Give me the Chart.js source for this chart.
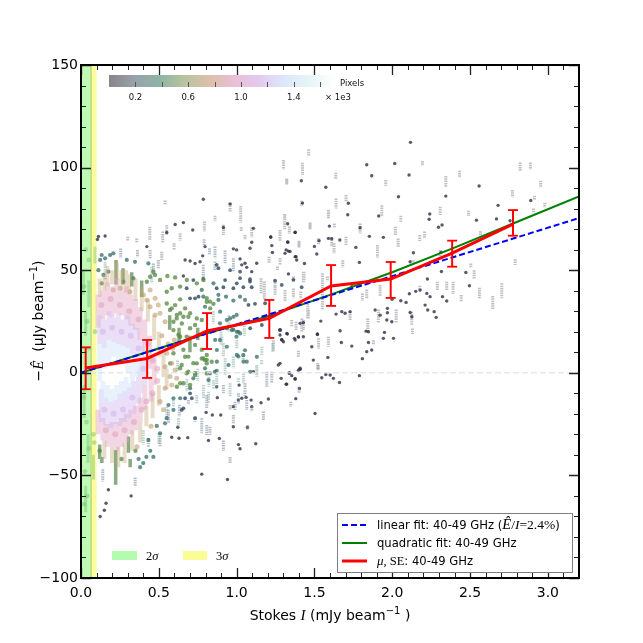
<!DOCTYPE html>
<html>
<head>
<meta charset="utf-8">
<title>Stokes I vs E</title>
<script src="https://cdn.jsdelivr.net/npm/chart.js@4"></script>
<style>
    html, body { margin: 0; padding: 0; background: #ffffff; }
    #wrap { width: 643px; height: 643px; }
</style>
</head>
<body>
<div id="wrap"><canvas id="chart" width="643" height="643"></canvas></div>
<script>
// fit lines and binned means
const linearX = [0, 3.2];
const linearY = [0, 75.4];
const quadX = [0, 0.4, 0.8, 1.2, 1.6, 2.0, 2.4, 2.8, 3.2];
const quadY = [0, 9.5, 19, 27.5, 38, 49, 61, 73.5, 86];
const meanX = [0.03, 0.425, 0.81, 1.21, 1.607, 1.99, 2.385, 2.776];
const meanY = [2.3, 7, 20.4, 26.5, 42.3, 45.7, 58.3, 72.5];
const seLow = [-8, -2.5, 11.6, 17, 32.6, 36.5, 51.7, 66.8];
const seHigh = [12.4, 16, 29.1, 35.5, 52.5, 54, 64.4, 79.3];
const zeroX = [0, 3.2];
const zeroY = [0, 0];

const sigmaLimits = [0.065, 0.1];
const xMajor = [0, 0.5, 1, 1.5, 2, 2.5, 3];
const yMajor = [-100, -50, 0, 50, 100, 150];
const xMinorStep = 0.1;
const yMinorStep = 10;
const pixelTicks = [0.2, 0.6, 1.0, 1.4];
const pixelMinor = [0.4, 0.8, 1.2, 1.6];

// vertical runs of points: [x, top, bottom]
const runsDark = [
    [1.463,108.9,105.6],[1.301,103.7,99.1],[1.423,102.4,96.4],[1.322,94.7,91.8],[1.637,97.5,94.3],[1.958,93.9,91.2],
    [2.194,103.2,100.8],[2.432,98.5,95.1],[2.344,95.9,90.4],[2.822,102.5,98],[2.888,102.5,99.1],[2.954,93.6,90.7],
    [2.772,89.1,85.5],[1.703,86.6,83.4],[1.639,85,80.1],[1.933,81.7,76],[1.59,79.3,75.7],[2.055,76.5,73.6],
    [2.308,80.9,76.9],[2.49,79,76.4],[2.914,86.3,84.2],[2.98,82.9,80.6],[2.907,80.1,77.7],[1.309,77.4,72],
    [1.472,72.8,70],[1.628,72.8,70.9],[1.793,72.8,67.9],[2.02,71.2,67.1],[2.038,65.5,61.1],[2.207,68.8,65.5],
    [2.177,67.1,64.2],[2.567,69,66.6],[1.703,66.3,62.3],[1.611,66,61.4],[1.279,69.6,64.4],[1.401,63.9,61.1],
    [1.626,63.1,58.2],[1.905,62.3,56.2],[1.682,54.9,51.4],[2.136,54.9,52.5],[2.308,59.8,56.6],[2.505,53.3,51.4],
    [2.79,55.3,52.5],[2.526,50,45.5],[2.29,44.4,40],[2.35,44.4,40.3],[2.391,44.4,38.4],[2.177,42.4,39.8],
    [2.56,41.5,36],[2.443,37.9,34.8],[2.646,37.4,30.9],[2.704,43.6,36.3],[1.836,40.6,36],[1.808,38.7,35.1],
    [1.922,42.8,37.4],[1.551,48.5,30.6],[1.429,49.3,43.9],[1.365,41.1,36.3],[1.247,45.2,40.3],[1.311,40.3,34.6],
    [1.457,33.8,26.5],[1.911,30.9,24.1],[2.025,30.9,24.4],[1.843,26.5,20],[1.729,29.8,25.4],[2.125,29.8,23.3],
    [2.13,21.6,18.9],[1.59,17.6,12.7],[1.236,15.9,10.3],[1.397,10.8,7.5],[1.879,15.9,13.5],[1.521,4.8,1.3],
    [1.419,26.5,20],[1.382,24.9,20.8],[1.354,25.7,22.5],[1.322,94,92],[1.418,83.9,81.3],[1.026,81.3,73.2],
    [0.958,82.6,78.6],[0.861,76.5,73.9],[0.793,73.7,68.8],[0.915,72.1,67.2],[1.03,70.9,68.8],[1.097,70.9,66.1],
    [1.054,67.2,64.8],[1.279,69.6,64.8],[1.309,77.3,70],[1.339,71.3,67.7],[1.472,73.2,70],[1.59,79.4,75.3],
    [1.401,64.3,61.5],[1.525,65.6,62.3],[1.208,56.6,53.4],[1.279,55.8,52.6],[1.262,51.8,50.1],[1.433,49.3,44.5],
    [1.583,46.9,44.5],[1.365,46.9,44.5],[1.157,46.1,38.8],[1.178,44.5,35.5],[1.247,42,38],[1.412,39.6,36.3],
    [0.442,71.2,64.7],[0.525,68.8,63.4],[0.551,72,67.1],[0.637,68,64.4],[0.598,63.1,59.8],[0.3,66.3,64.4],
    [0.358,65.5,63.4],[0.54,84,82],[1.526,16.8,11.9],[1.429,25.7,20.9],[1.382,24.9,20.9],[1.461,30.6,26.5]
];
const runsSlate = [
    [0.915,-6,-10],[0.808,-10.8,-15.7],[1.054,-5.1,-12.4],[0.99,-14.1,-18.1],[0.958,-15.7,-18.1],[1.097,-16.5,-18.9],
    [1.172,-18.9,-23],[0.979,-20.6,-24.6],[0.776,-22.2,-29.5],[0.808,-25.4,-30.3],[0.829,-26.3,-30.3],[1.071,-25.4,-27.9],
    [1.226,0.5,-5.1],[1.401,-6.8,-10],[1.348,-14.1,-16.5],[1.525,3.8,1.4],[0.791,65.1,62.3],[0.825,60.7,57.4],
    [0.861,61.5,55.8],[0.926,59.6,53.4],[0.979,55.8,49.3],[0.786,52.6,45.3],[0.861,54.2,50.1],[0.255,60.6,55.8],
    [0.444,59.8,55.8],[0.363,59.8,56.3],[0.465,53.3,47.7],[0.497,55,50.9],[0.519,59,55],[0.508,-29.5,-36],
    [0.562,-18,-24.6],[0.632,-15.6,-21.3],[0.69,-13.2,-15.6],[0.733,-21.3,-23.8],[0.808,-10.8,-17.3],[0.433,-31.9,-36],
    [0.348,-51,-55],[0.915,-33,-38],[0.958,-41,-44],[0.14,-47,-53],[1.194,0.5,-6.8],[1.065,-13.3,-18.1],[1.012,-10,-15]
];
const runsTeal = [
    [0.915,14.4,7.9],[0.926,7.1,-1.1],[0.979,7.9,2.2],[0.872,-0.3,-7.6],[0.823,-1.9,-6.8],[1.043,9.5,6.2],
    [1.011,-2.7,-5.1],[1.129,3.8,-1.1],[1.232,14.4,10.3],[1.161,6.2,3.8],[0.155,54,45],[0.455,51.7,43.6],
    [0.5,-29.5,-35],[0.4,-28,-35],[0.85,30,24],[0.95,28,20],[1.05,24,18],[0.9,20,14],
    [0.958,-5.1,-11.6],[1.13,3,-1.9],[1.044,-0.3,-5.1],[1.001,16,11.9],[0.905,17.6,13.5],[1.162,12.7,8.7],
    [0.851,-3.5,-7.6],[0.787,-6,-12.5],[0.744,-10.8,-14.9],[0.551,-16.5,-23],[0.594,-13.3,-16.5],[0.626,-22.2,-26.3],
    [0.82,-9.2,-15],[0.75,2,-4],[0.68,-3,-9],[0.62,6,1]
];
const runsGreen = [
    [0.225,55,43],[0.27,51,43],[0.326,49,42],[0.39,45,37],[0.12,-35,-42],[0.305,-31,-39],[0.223,-37.6,-54.6],
    [0.134,-41,-44],[0.316,-42,-46],[0.57,28,21],[0.63,22,15],[0.7,18,10],[0.75,22,16]
];
const runsTan = [
    [0.12,46,37],[0.15,48,40],[0.17,52,42],[0.2,50,43],[0.23,54,45],[0.26,50,40],[0.29,50,39],[0.31,48,38],[0.35,46,35],[0.39,42,30],
    [0.43,36,25],[0.47,28,16],[0.5,20,8],[0.53,10,-2],[0.55,2,-8],[0.5,-6,-16],[0.46,-10,-22],[0.42,-16,-26],
    [0.38,-24,-34],[0.33,-28,-38],[0.28,-34,-44],[0.24,-36,-46],[0.2,-36,-44],[0.15,-33,-42]
];
const runsPink = [
    [0.11,38,22],[0.14,40,26],[0.17,44,28],[0.2,42,27],[0.23,46,29],[0.26,40,28],[0.29,42,26],[0.32,38,23],
    [0.35,36,21],[0.38,32,16],[0.41,26,10],[0.44,18,2],[0.47,8,-6],[0.45,-2,-14],[0.41,-6,-18],[0.38,-12,-24],
    [0.35,-16,-28],[0.32,-18,-30],[0.29,-20,-34],[0.26,-22,-36],[0.23,-24,-38],[0.2,-24,-36],[0.17,-25,-36],
    [0.14,-22,-33],[0.11,-18,-30]
];
const runsLavender = [
    [0.12,28,14],[0.15,26,12],[0.18,30,16],[0.21,27,15],[0.24,29,14],[0.27,26,13],[0.3,28,12],[0.33,24,9],
    [0.36,22,6],[0.39,16,2],[0.41,8,-6],[0.38,3,-10],[0.13,-8,-24],[0.16,-12,-26],[0.19,-14,-27],[0.22,-13,-25],
    [0.25,-10,-26],[0.28,-9,-24],[0.31,-7,-22],[0.34,-4,-20],[0.37,-2,-15]
];
const runsPale = [
    [0.12,14,-4],[0.15,15,2],[0.18,17,4],[0.21,15,8],[0.24,16,6],[0.27,14,4],[0.3,13,0],[0.33,9,-5],[0.36,6,-2],
    [0.14,-4,-14],[0.17,-6,-15],[0.2,-8,-14],[0.23,-6,-13],[0.26,-4,-12],[0.29,-2,-10],[0.32,-5,-8]
];
const runsBand = [
    [0.015,50,38],[0.03,30,18],[0.05,45,32],[0.02,-6,-22],[0.045,-30,-44],[0.03,-55,-68],[0.09,61.5,53.3],[0.08,-40,-52]
];

// single points: [x, y]
const dotsDark = [
    [2.117,112.3],[1.836,101.4],[2.016,102],[2.108,96.4],[1.868,96],[1.416,93.6],[1.573,90.4],[2.558,91],[2.04,85.8],
    [2.344,86.1],[2.89,84],[2.68,81.6],[1.423,82.7],[1.718,82.6],[1.714,77],[1.913,76.4],[2.241,77.4],[2.237,74.8],
    [2.541,74.4],[2.67,75],[2.757,74.1],[2.32,72],[2.297,70.9],[1.596,71.5],[1.793,70.7],[1.376,68.4],[1.329,63.6],
    [1.219,66.3],[1.226,62],[1.53,64.4],[1.5,61.6],[1.59,65.5],[1.611,65.3],[1.663,64.7],[1.853,66.5],[1.943,66],
    [1.766,61.1],[1.515,57.9],[1.333,59.3],[1.311,58.2],[1.376,56.6],[1.386,55],[1.436,53.3],[1.789,53.8],[2.136,58.5],
    [2.115,54.1],[2.314,58.7],[2.473,48.9],[2.226,45.7],[2.316,49.4],[2.496,42.4],[2.151,39.7],[2.179,40.3],[2.11,38.5],
    [2.222,38.7],[2.243,37.1],[2.323,37.1],[2.35,35],[2.055,35.1],[2.089,34.3],[2.211,33],[2.228,30.6],[2.269,29.8],
    [2.282,27],[2.115,29.4],[2.126,27.3],[1.969,31.4],[1.969,29.3],[1.89,30.6],[1.922,28.1],[1.999,35.8],[1.793,42.8],
    [1.74,42],[1.639,28.6],[1.676,29.8],[1.697,29],[1.729,29.8],[1.965,25.7],[1.997,24.9],[1.541,25.2],[1.665,20.5],
    [1.832,20.3],[1.847,20],[1.95,19.7],[1.943,16.8],[2.008,16.8],[1.847,14.8],[1.673,14.8],[1.74,13],[1.519,18.7],
    [1.483,12.7],[1.836,10.3],[1.868,11.1],[1.808,6.9],[1.493,6.2],[1.586,7.5],[1.279,4.6],[1.408,2.2],[1.397,1.3],
    [1.339,-0.3],[1.376,-2.7],[1.547,-2.4],[1.573,-0.8],[1.601,-1.1],[1.622,-2.7],[1.661,-4.7],[1.789,-1.4],[1.286,-2.7],
    [1.322,-5.5],[1.404,-7.6],[1.29,16],[1.279,20.8],[1.322,19.2],[1.376,16],[1.429,24.4],[1.429,17.6],[1.397,17.6],
    [1.301,15.1],[0.786,84.6],[0.958,82.3],[1.108,70.4],[0.915,70.8],[1.328,72.6],[1.376,68.5],[1.219,66],[1.23,58.6],
    [1.328,63.8],[1.318,59.9],[1.343,59.1],[1.097,63.6],[1.086,60.7],[0.797,61.5],[0.979,60.4],[1.0,59.9],[1.022,55.5],
    [1.033,52.6],[1.054,53.4],[1.065,51.4],[1.129,53.4],[1.097,49.3],[1.382,56.6],[1.333,48.2],[0.782,57],[1.279,20.9],
    [1.29,16.2],[1.326,18.9],[1.371,16.8],[1.397,17.4],[1.279,18.4],[1.408,24.1],[1.519,18.9],[1.408,1.7],[1.268,3.8],
    [1.108,0.55],[1.339,0.06],[1.354,-1.4],[1.376,-3.2],[1.318,-5.6],[1.204,-12.8],[1.157,-14.6],[1.38,-12.6],[1.093,-13.3],
    [1.097,-16.5],[1.061,-12],[1.033,-12.4],[1.011,-13.3],[0.979,-16.5],[0.876,-12.1],[0.804,-19.3],[0.844,-20.6],
    [0.898,-20.6],[0.979,-26.3],[1.069,-26.6],[1.504,-19.8],[0.889,-32],[0.954,-1.9],[0.872,-6.8],[1.016,-6],[0.155,66.7],
    [0.112,66.4],[0.106,65],[0.605,72.3],[0.658,73.2],[0.718,69.6],[0.423,61.5],[0.551,68.4],[0.669,55],[0.701,54.5],
    [0.733,53.3],[0.765,54.1],[0.658,47.2],[0.176,-57],[0.161,-63.6],[0.15,-67],[0.123,-70],[0.322,-60],[0.776,-49.4],
    [0.941,-52],[0.819,-33],[1.012,-35],[1.022,-37],[1.123,-34.6],[0.622,-26.5],[0.583,-31.4],[0.63,-31.9],[0.686,-31.6]
];
const dotsSlate = [
    [0.872,52.6],[0.883,51],[0.786,45.8],[1.022,46.1],[1.086,45.6],[1.086,44.5],[1.097,41.7],[1.247,44.9],[1.29,42.8],
    [1.418,41.7],[1.365,45.3],[1.279,20.9],[0.701,-10],[0.669,-12.4],[0.712,-12.4],[0.647,-18.1],[0.658,-17.3],
    [0.733,-22.1],[0.722,45.2],[0.679,41.2],[0.701,36.3],[0.733,36.3],[0.755,37.1],[1.043,41.7],[1.183,33.9],[1.118,33.6],
    [1.076,33.1],[0.979,41.2],[0.915,41.7],[0.872,41.2],[1.001,43.6],[0.926,45.2],[0.958,50],[1.022,49.3],[1.162,23.3],[1.087,21.7]
];
const dotsTeal = [
    [0.979,35.2],[1.022,37.1],[1.054,35.5],[0.932,37.1],[0.883,38],[0.776,40.4],[0.786,37.1],[0.797,32.2],[1.011,8],
    [1.011,20],[0.979,21],[1.054,11],[1.043,8.6],[1.065,5.4],[0.999,17.6],[0.969,20.8],[1.022,19.2],[0.958,26.5],
    [1.0,28.2],[0.893,24.1],[0.937,21.7],[0.893,16],[0.862,16],[0.594,-12.4],[0.562,-15.7],[0.637,-12.4],[0.701,-7.5],
    [0.551,-22.1],[0.54,-24.6],[0.487,-25.9],[0.433,-32.7],[0.508,-29.5],[0.594,-18.1],[0.722,-2.7],[0.819,-3.5],
    [0.797,2.2],[0.133,57.4],[0.123,55],[0.155,55.8],[0.187,57.4],[0.208,58.2],[0.294,55],[0.347,54.1],[0.433,53.3],
    [0.112,50],[0.144,47.7],[0.176,49.3],[0.273,44.4],[0.337,46],[0.86,0.5],[0.829,-0.3],[0.872,1],[0.37,-42],[0.42,-41],
    [0.38,-46],[0.4,-44],[0.445,-38],[0.465,-41],[0.937,25.7],[0.98,27.3],[1.033,24],[1.001,20],[0.873,11.1],[0.937,12.7],
    [1.001,8.7],[1.044,5.4],[1.13,7.8],[1.087,0.5],[0.948,3.8],[0.873,5.4],[0.894,29.8],[0.883,35.5],[0.851,43.6]
];
const dotsGreen = [
    [0.829,34.7],[0.851,33.6],[0.808,36.3],[0.551,39.5],[0.583,41.2],[0.637,35.8],[0.605,33],[0.572,30.6],[0.551,33.8],
    [0.508,45.2],[0.555,47.2],[0.605,46.5],[0.637,29],[0.615,26.5],[0.658,27.3],[0.594,24.9],[0.701,29],[0.744,26.5],
    [0.733,23.3],[0.465,49.3],[0.476,47.7],[0.423,44.4],[0.444,46.8],[0.658,11.2],[0.69,7.9],[0.722,4.7],[0.647,3.8],
    [0.679,-0.2],[0.733,-0.2],[0.637,-5.1],[0.701,-5.9],[0.626,18.5],[0.679,17.6],[0.733,13.6],[0.776,11.2],[0.808,6.3],
    [0.797,6.2],[0.808,4.6],[0.776,7],[0.808,8.7],[0.84,5.4],[0.133,43.6],[0.12,-38],[0.26,-42],[0.35,-38],
    [0.583,31.4],[0.616,28.2],[0.669,31.4],[0.69,27.3],[0.648,24],[0.594,20.8],[0.637,17.6],[0.701,21.7],[0.776,25.7],
    [0.808,34.6],[0.83,31.4],[0.68,45.2],[0.744,43.6],[0.637,42],[0.787,45.2],[0.787,7],[0.744,4.6],[0.808,-0.3],
    [0.69,0.5],[0.637,2.2],[0.594,9.5],[0.573,4.6],[0.669,7.8],[0.733,-1.1],[0.658,-5.1],[0.616,-6.8]
];
const dotsTan = [
    [0.208,40.3],[0.251,41.2],[0.315,39.5],[0.401,37.9],[0.444,40.3],[0.476,36.3],[0.497,33],[0.508,29],[0.54,24.9],
    [0.423,35.5],[0.444,32.2],[0.476,28.2],[0.551,9.5],[0.583,4.7],[0.54,3],[0.605,1.4],[0.572,-1.8],[0.615,-2.7],
    [0.54,-7.5],[0.508,-14],[0.583,-5.9],[0.52,18],[0.56,14],[0.59,12],[0.6,16],[0.53,-18],[0.45,-26],[0.36,-36]
];
const dotsPink = [
    [0.13,33],[0.19,36],[0.25,33],[0.31,30],[0.37,26],[0.43,14],[0.46,6],[0.49,2],[0.49,-4],[0.46,-10],[0.42,-14],
    [0.16,-28],[0.22,-30],[0.28,-28],[0.34,-24],[0.39,-18]
];
const dotsLavender = [
    [0.14,20],[0.2,22],[0.26,20],[0.32,18],[0.37,12],[0.4,2],[0.15,-18],[0.21,-20],[0.27,-18],[0.33,-12]
];
const dotsBand = [
    [0.03,60],[0.05,55],[0.02,42],[0.04,25],[0.05,12],[0.02,-12],[0.035,-24],[0.05,-37],[0.025,-48],[0.04,-60],[0.02,-64],
    [0.08,-30],[0.085,-34],[0.09,20]
];

const xLimits = [0, 3.2];
const yLimits = [-100, 150];

const bandStyles = [
    { runs: runsDark, dots: dotsDark, run: 'rgba(128,128,138,0.5)', dot: 'rgba(44,42,64,0.78)', r: 1.7, w: 3, dash: [1.5, 0.8] },
    { runs: runsSlate, dots: dotsSlate, run: 'rgba(104,124,146,0.5)', dot: 'rgba(46,70,92,0.8)', r: 1.9, w: 3, dash: [1.5, 0.8] },
    { runs: runsTeal, dots: dotsTeal, run: 'rgba(120,165,155,0.5)', dot: 'rgba(52,110,100,0.75)', r: 2.1, w: 3, dash: [1.5, 0.8] },
    { runs: runsGreen, dots: dotsGreen, run: 'rgba(88,135,72,0.7)', dot: 'rgba(90,138,72,0.78)', r: 2.2, w: 3.5, dash: [] },
    { runs: runsTan, dots: dotsTan, run: 'rgba(200,170,125,0.42)', dot: 'rgba(190,160,110,0.6)', r: 2.5, w: 4, dash: [] },
    { runs: runsPink, dots: dotsPink, run: 'rgba(226,165,195,0.45)', dot: 'rgba(224,160,190,0.55)', r: 3, w: 5, dash: [] },
    { runs: runsLavender, dots: dotsLavender, run: 'rgba(210,185,238,0.45)', dot: 'rgba(208,180,236,0.55)', r: 3, w: 5, dash: [] },
    { runs: runsPale, dots: [], run: 'rgba(218,234,250,0.6)', dot: 'rgba(216,232,250,0.6)', r: 3, w: 5, dash: [] }
];

const gradientStops = ['#8a8488', '#97a1ab', '#8fb3a5', '#b5c49e', '#dcc0a8', '#eabfd5', '#e2c9ee', '#dde6fb', '#e3f5f7', '#ffffff'];

const SANS = '"DejaVu Sans"';
const SERIF = '"Liberation Serif"';

function pairs(xs, ys) {
    return xs.map(function(x, i) {
        return { x: x, y: ys[i] };
    });
}

// each run becomes its own little segment, a NaN breaks the line
function runSegments(list) {
    const out = [];
    list.forEach(function(r) {
        out.push({ x: r[0], y: r[1] });
        out.push({ x: r[0], y: r[2] });
        out.push({ x: r[0], y: NaN });
    });
    return out;
}

function errorSegments() {
    return runSegments(meanX.map(function(x, i) {
        return [x, seLow[i], seHigh[i]];
    }));
}

function dotPoints(list) {
    return list.map(function(d) {
        return { x: d[0], y: d[1] };
    });
}

function lineSet(data, color, width, dash, order) {
    return {
        data: data,
        showLine: true,
        borderColor: color,
        backgroundColor: color,
        borderWidth: width,
        borderDash: dash || [],
        pointRadius: 0,
        order: order
    };
}

function buildDatasets() {
    const sets = [];
    let order = 100;
    bandStyles.forEach(function(band) {
        sets.push(lineSet(runSegments(band.runs), band.run, band.w, band.dash, order--));
        sets.push({
            data: dotPoints(band.dots),
            pointRadius: band.r,
            pointBackgroundColor: band.dot,
            pointBorderWidth: 0,
            order: order--
        });
    });
    sets.push(lineSet(runSegments(runsBand), 'rgba(110,190,110,0.4)', 3, [], order--));
    sets.push({
        data: dotPoints(dotsBand),
        pointRadius: 2.4,
        pointBackgroundColor: 'rgba(110,190,110,0.45)',
        pointBorderWidth: 0,
        order: order--
    });
    sets.push(lineSet(pairs(zeroX, zeroY), 'rgba(225,225,225,0.8)', 1.5, [6, 3], order--));
    sets.push(lineSet(pairs(quadX, quadY), '#008000', 2, [], 6));
    sets.push(lineSet(pairs(linearX, linearY), '#0000ff', 2, [6, 3], 5));
    sets.push(lineSet(pairs(meanX, meanY), '#ff0000', 3, [], 4));
    sets.push({
        data: errorSegments(),
        showLine: true,
        borderColor: '#ff0000',
        borderWidth: 2,
        pointStyle: 'line',
        pointRadius: 5,
        pointBorderColor: '#ff0000',
        pointBorderWidth: 1.8,
        order: 3
    });
    return sets;
}

function drawRuns(ctx, runs, x, y) {
    let pos = x;
    runs.forEach(function(run) {
        ctx.font = run.font;
        ctx.fillText(run.text, pos, y + (run.rise || 0));
        pos += ctx.measureText(run.text).width;
    });
    return pos - x;
}

function runsWidth(ctx, runs) {
    let w = 0;
    runs.forEach(function(run) {
        ctx.font = run.font;
        w += ctx.measureText(run.text).width;
    });
    return w;
}

function drawBandsBehind(chart) {
    const ctx = chart.ctx;
    const area = chart.chartArea;
    const xs = chart.scales.x;
    ctx.save();
    ctx.fillStyle = 'rgb(251,251,160)';
    ctx.fillRect(area.left, area.top, xs.getPixelForValue(sigmaLimits[1]) - area.left, area.bottom - area.top);
    ctx.fillStyle = 'rgb(190,250,180)';
    ctx.fillRect(area.left, area.top, xs.getPixelForValue(sigmaLimits[0]) - area.left, area.bottom - area.top);
    ctx.fillStyle = 'rgba(170,180,80,0.7)';
    ctx.fillRect(xs.getPixelForValue(sigmaLimits[0]) - 0.5, area.top, 1, area.bottom - area.top);
    ctx.restore();
}

function drawFrame(chart) {
    const ctx = chart.ctx;
    const area = chart.chartArea;
    const xs = chart.scales.x;
    const ys = chart.scales.y;
    ctx.save();
    ctx.strokeStyle = '#222222';

    function tickX(v, len, w) {
        const p = Math.round(xs.getPixelForValue(v)) + 0.5;
        ctx.lineWidth = w;
        ctx.beginPath();
        ctx.moveTo(p, area.bottom);
        ctx.lineTo(p, area.bottom - len);
        ctx.moveTo(p, area.top);
        ctx.lineTo(p, area.top + len);
        ctx.stroke();
    }
    function tickY(v, len, w) {
        const p = Math.round(ys.getPixelForValue(v)) + 0.5;
        ctx.lineWidth = w;
        ctx.beginPath();
        ctx.moveTo(area.left, p);
        ctx.lineTo(area.left + len, p);
        ctx.moveTo(area.right, p);
        ctx.lineTo(area.right - len, p);
        ctx.stroke();
    }

    for (let i = 1; i * xMinorStep < xLimits[1]; i++) {
        tickX(i * xMinorStep, 5, 1);
    }
    for (let v = yLimits[0] + yMinorStep; v < yLimits[1]; v += yMinorStep) {
        tickY(v, 5, 1);
    }
    xMajor.forEach(function(v) { tickX(v, 10, 1.3); });
    yMajor.forEach(function(v) { tickY(v, 10, 1.3); });

    ctx.strokeStyle = '#000000';
    ctx.lineWidth = 2;
    ctx.strokeRect(area.left, area.top, area.right - area.left, area.bottom - area.top);
    ctx.restore();
}

function drawAxisTitles(chart) {
    const ctx = chart.ctx;
    const area = chart.chartArea;
    ctx.save();
    ctx.fillStyle = '#000000';
    ctx.textBaseline = 'alphabetic';
    ctx.textAlign = 'left';

    const xRuns = [
        { text: 'Stokes ', font: '14px ' + SANS },
        { text: 'I', font: 'italic 15px ' + SERIF },
        { text: ' (mJy beam', font: '14px ' + SANS },
        { text: '\u22121', font: '10px ' + SANS, rise: -6 },
        { text: ' )', font: '14px ' + SANS }
    ];
    const xCenter = (area.left + area.right) / 2;
    drawRuns(ctx, xRuns, xCenter - runsWidth(ctx, xRuns) / 2, 620);

    const yRuns = [
        { text: '\u2212', font: '14px ' + SANS },
        { text: '\u00ca', font: 'italic 15px ' + SERIF },
        { text: '  (\u03bcJy beam', font: '14px ' + SANS },
        { text: '\u22121', font: '10px ' + SANS, rise: -6 },
        { text: ')', font: '14px ' + SANS }
    ];
    ctx.translate(43, 321);
    ctx.rotate(-Math.PI / 2);
    drawRuns(ctx, yRuns, -runsWidth(ctx, yRuns) / 2, 0);
    ctx.restore();
}

function drawColorbar(chart) {
    const ctx = chart.ctx;
    const left = 109;
    const perUnit = 132;
    const top = 75;
    const height = 12;
    const width = 224;
    ctx.save();
    const grad = ctx.createLinearGradient(left, 0, left + width, 0);
    gradientStops.forEach(function(c, i) {
        grad.addColorStop(i / (gradientStops.length - 1), c);
    });
    ctx.fillStyle = grad;
    ctx.fillRect(left, top, width, height);

    ctx.strokeStyle = '#555555';
    ctx.lineWidth = 1;
    pixelTicks.concat(pixelMinor).forEach(function(v) {
        const p = Math.round(left + v * perUnit) + 0.5;
        ctx.beginPath();
        ctx.moveTo(p, top + height - 5);
        ctx.lineTo(p, top + height);
        ctx.stroke();
    });

    ctx.fillStyle = '#111111';
    ctx.font = '8.5px ' + SANS;
    ctx.textAlign = 'center';
    ctx.textBaseline = 'alphabetic';
    pixelTicks.forEach(function(v) {
        ctx.fillText(v.toFixed(1), left + v * perUnit, 100);
    });
    ctx.textAlign = 'left';
    ctx.fillText('Pixels', 340, 86);
    ctx.fillText('\u00d7 1e3', 325, 100);
    ctx.restore();
}

function drawLegends(chart) {
    const ctx = chart.ctx;
    ctx.save();

    // sigma patches
    ctx.fillStyle = 'rgb(180,250,175)';
    ctx.fillRect(112, 551, 25, 9);
    ctx.fillStyle = 'rgb(252,252,150)';
    ctx.fillRect(183, 551, 24, 9);
    ctx.fillStyle = '#000000';
    ctx.textAlign = 'left';
    ctx.textBaseline = 'alphabetic';
    drawRuns(ctx, [{ text: '2', font: '12.5px ' + SERIF }, { text: '\u03c3', font: 'italic 12.5px ' + SERIF }], 146, 560);
    drawRuns(ctx, [{ text: '3', font: '12.5px ' + SERIF }, { text: '\u03c3', font: 'italic 12.5px ' + SERIF }], 216, 560);

    // main legend box
    ctx.fillStyle = 'rgba(255,255,255,0.95)';
    ctx.fillRect(337, 513, 235, 59);
    ctx.strokeStyle = '#808080';
    ctx.lineWidth = 1;
    ctx.strokeRect(337.5, 513.5, 235, 59);

    function handle(y, color, width, dash) {
        ctx.strokeStyle = color;
        ctx.lineWidth = width;
        ctx.setLineDash(dash);
        ctx.beginPath();
        ctx.moveTo(342, y);
        ctx.lineTo(367, y);
        ctx.stroke();
        ctx.setLineDash([]);
    }
    handle(525, '#0000ff', 2, [6, 3]);
    handle(543, '#008000', 2, []);
    handle(561, '#ff0000', 3, []);

    const text = '11.6px ' + SANS;
    ctx.fillStyle = '#000000';
    drawRuns(ctx, [
        { text: 'linear fit: 40-49 GHz (', font: text },
        { text: '\u00ca', font: 'italic 14.5px ' + SERIF },
        { text: '/', font: '13.5px ' + SERIF },
        { text: 'I', font: 'italic 13.5px ' + SERIF },
        { text: '=2.4%', font: '13.5px ' + SERIF },
        { text: ')', font: text }
    ], 377, 529);
    drawRuns(ctx, [{ text: 'quadratic fit: 40-49 GHz', font: text }], 377, 547);
    drawRuns(ctx, [
        { text: '\u03bc', font: 'italic 13px ' + SERIF },
        { text: ', SE', font: '12.5px ' + SERIF },
        { text: ': 40-49 GHz', font: text }
    ], 377, 565);
    ctx.restore();
}

const decorations = {
    id: 'decorations',
    beforeDatasetsDraw: drawBandsBehind,
    afterDatasetsDraw: function(chart) {
        drawFrame(chart);
        drawColorbar(chart);
        drawLegends(chart);
        drawAxisTitles(chart);
    }
};

function initializeChart() {
    const ctx = document.getElementById('chart').getContext('2d');
    new Chart(ctx, {
        type: 'scatter',
        data: { datasets: buildDatasets() },
        options: {
            responsive: false,
            animation: false,
            spanGaps: false,
            layout: { padding: { top: 65, right: 64, left: 0, bottom: 0 } },
            plugins: {
                legend: { display: false },
                title: { display: false },
                tooltip: { enabled: false }
            },
            scales: {
                x: {
                    type: 'linear',
                    min: xLimits[0],
                    max: xLimits[1],
                    afterFit: function(scale) { scale.height = 65; },
                    grid: { display: false, drawTicks: false },
                    border: { display: false },
                    ticks: {
                        stepSize: 0.5,
                        includeBounds: false,
                        maxRotation: 0,
                        padding: 7,
                        color: '#000000',
                        font: { family: 'DejaVu Sans', size: 14 },
                        callback: function(v) { return v.toFixed(1); }
                    }
                },
                y: {
                    type: 'linear',
                    min: yLimits[0],
                    max: yLimits[1],
                    afterFit: function(scale) { scale.width = 81; },
                    grid: { display: false, drawTicks: false },
                    border: { display: false },
                    ticks: {
                        stepSize: 50,
                        padding: 3,
                        color: '#000000',
                        font: { family: 'DejaVu Sans', size: 14 },
                        callback: function(v) { return v < 0 ? '\u2212' + Math.abs(v) : String(v); }
                    }
                }
            }
        },
        plugins: [decorations]
    });
}

document.addEventListener('DOMContentLoaded', initializeChart);
</script>
</body>
</html>
